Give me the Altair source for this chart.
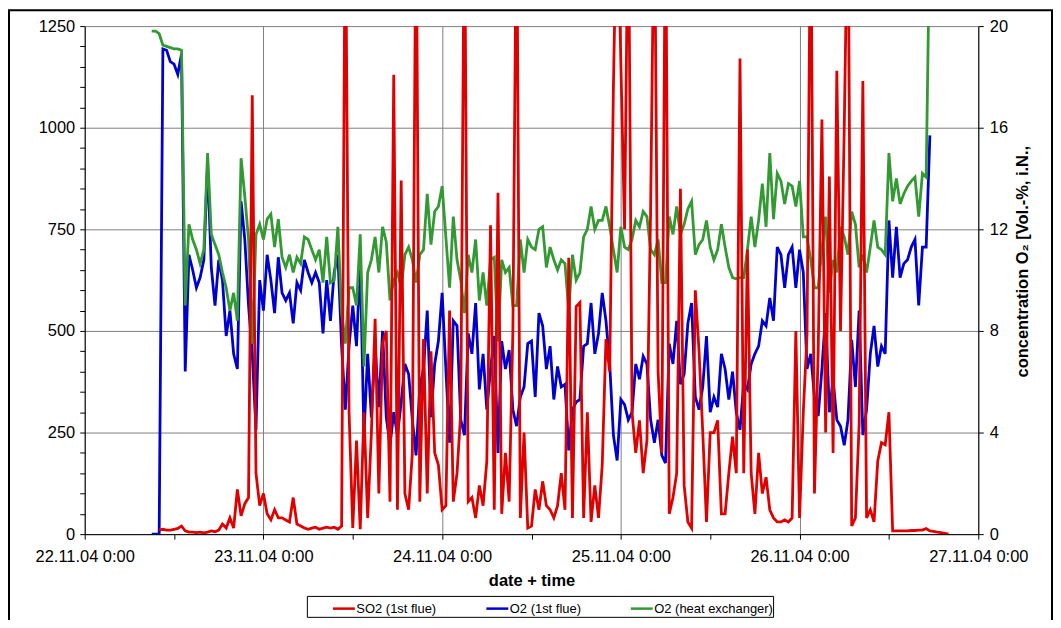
import altair as alt
import numpy as np
import pandas as pd

# ---------------- data ----------------
# time axis: hours after 22.11.04 0:00, logger interval 0.5 h
O2_START_H = 9.0
SO2_START_H = 10.0
STEP_H = 0.5

# O2 (1st flue) [Vol.-%], from 9.0 h
o2_flue = [
    0, 0, 0, 19.1, 19.05, 18.6, 18.5, 18.1, 18.9, 6.4,             # 9.0
    11.0, 10.4, 9.7, 10.1, 10.8, 14.6, 10.5, 9.0, 10.8, 10.0,      # 14.0
    7.8, 8.8, 7.1, 6.5, 13.1, 11.6, 9.0, 7.1, 4.1, 10.0,           # 19.0
    8.8, 11.0, 10.0, 8.7, 10.9, 9.5, 9.2, 9.5, 8.3, 9.9,           # 24.0
    9.6, 10.8, 10.3, 9.9, 10.3, 9.9, 7.9, 10.0, 8.4, 10.3,         # 29.0
    11.0, 7.4, 4.9, 7.4, 9.0, 7.4, 10.8, 3.9, 7.1, 4.6,            # 34.0
    7.4, 5.0, 8.0, 4.6, 3.5, 4.8, 3.9, 5.2, 6.7, 6.3,              # 39.0
    4.5, 3.1, 5.8, 6.5, 8.8, 4.6, 6.7, 7.6, 9.5, 6.5,              # 44.0
    3.6, 8.4, 8.2, 4.5, 3.9, 7.9, 7.1, 9.1, 5.7, 7.1,              # 49.0
    4.9, 6.5, 7.8, 3.2, 7.6, 6.5, 7.25, 4.9, 4.25, 5.4,            # 54.0
    5.8, 7.5, 7.6, 5.4, 8.7, 8.2, 6.5, 7.4, 5.3, 6.6,              # 59.0
    5.8, 5.9, 3.3, 4.9, 5.2, 5.3, 7.4, 7.5, 9.1, 7.1,              # 64.0
    7.9, 9.5, 8.4, 6.7, 3.9, 2.9, 5.3, 5.1, 4.5, 4.8,              # 69.0
    6.7, 6.1, 7.0, 6.7, 4.5, 3.6, 4.5, 3.1, 2.8, 7.5,              # 74.0
    6.7, 8.4, 5.9, 6.3, 8.3, 9.1, 5.4, 4.9, 5.8, 7.8,              # 79.0
    4.8, 5.4, 5.0, 7.1, 6.5, 5.3, 6.4, 4.8, 4.1, 5.95,             # 84.0
    5.7, 6.7, 7.1, 7.4, 8.4, 8.2, 9.3, 8.4, 11.3, 11.0,            # 89.0
    9.7, 11.0, 11.3, 9.7, 11.2, 10.3, 6.5, 7.1, 5.4, 4.65,         # 94.0
    6.5, 8.7, 4.8, 6.1, 4.5, 4.25, 3.5, 4.5, 7.65, 5.8,            # 99.0
    8.8, 3.9, 4.9, 7.1, 8.2, 6.6, 7.4, 7.1, 12.35, 10.1,           # 104.0
    12.1, 10.1, 10.65, 10.8, 11.3, 11.6, 9.0, 11.3, 11.3, 15.7,    # 109.0
]

# O2 (heat exchanger) [Vol.-%], from 9.0 h
o2_hx = [
    19.8, 19.8, 19.7, 19.25, 19.2, 19.15, 19.1, 19.1, 19.05, 9.0,  # 9.0
    12.2, 11.6, 11.2, 10.65, 11.2, 15.0, 11.8, 11.4, 11.0, 10.3,   # 14.0
    9.7, 8.8, 9.5, 8.4, 14.8, 13.3, 11.6, 7.5, 11.8, 12.2,         # 19.0
    11.6, 12.4, 12.6, 11.3, 12.4, 10.9, 10.5, 11.0, 10.3, 10.9,    # 24.0
    10.65, 11.7, 11.6, 11.2, 10.8, 11.2, 9.9, 11.7, 9.9, 10.0,     # 29.0
    12.1, 8.7, 7.5, 9.7, 9.7, 9.0, 11.8, 6.6, 10.3, 10.8,          # 34.0
    11.7, 10.3, 12.1, 11.5, 9.2, 10.0, 10.3, 9.7, 11.0, 11.3,      # 39.0
    10.8, 9.9, 11.0, 11.2, 13.4, 11.4, 12.7, 12.9, 13.7, 11.7,     # 44.0
    9.7, 12.5, 10.8, 10.0, 8.7, 11.0, 10.3, 11.6, 9.2, 10.3,       # 49.0
    9.0, 10.8, 10.9, 7.6, 10.8, 10.3, 10.5, 9.0, 9.0, 11.6,        # 54.0
    10.3, 11.6, 11.3, 11.2, 12.0, 12.1, 10.5, 11.3, 10.8, 10.4,    # 59.0
    10.8, 10.65, 8.8, 11.0, 10.0, 10.3, 11.7, 12.0, 12.9, 12.0,    # 64.0
    12.35, 12.35, 12.9, 12.1, 11.2, 10.3, 12.1, 11.3, 11.2, 11.6,  # 69.0
    12.35, 12.1, 12.7, 12.5, 11.2, 11.0, 11.6, 9.9, 9.9, 12.5,     # 74.0
    11.8, 12.9, 11.8, 12.2, 12.8, 13.1, 11.0, 11.4, 11.6, 12.35,   # 79.0
    11.3, 10.8, 11.2, 12.2, 11.3, 10.5, 10.1, 10.05, 10.1, 10.1,   # 84.0
    11.2, 12.5, 11.3, 12.35, 13.8, 12.1, 15.0, 12.4, 14.2, 13.9,   # 89.0
    13.0, 13.8, 13.7, 12.9, 13.9, 11.7, 11.7, 10.8, 9.7, 9.7,      # 94.0
    11.2, 12.5, 9.5, 10.8, 10.3, 12.1, 11.7, 11.0, 12.7, 12.2,     # 99.0
    10.5, 11.0, 10.3, 11.3, 12.35, 11.3, 11.2, 11.0, 15.0, 13.1,   # 104.0
    14.0, 13.0, 13.4, 13.7, 13.9, 14.05, 12.5, 14.2, 14.05, 24.0,  # 109.0
]

# SO2 (1st flue) [mg/m3], from 10.0 h
so2 = [
    10, 12, 10, 10, 12, 14, 20, 8, 5, 5,                  # 10.0
    4, 5, 3, 5, 8, 6, 10, 25, 15, 40,                     # 15.0
    15, 110, 45, 75, 90, 1080, 150, 70, 100, 50,          # 20.0
    35, 60, 40, 40, 35, 30, 90, 25, 20, 15,               # 25.0
    12, 15, 17, 12, 15, 17, 15, 17, 12, 20,               # 30.0
    1600, 300, 15, 230, 12, 300, 40, 250, 530, 100,       # 35.0
    470, 500, 80, 1130, 60, 870, 100, 60, 200, 1600,      # 40.0
    80, 480, 100, 450, 200, 170, 60, 70, 550, 80,         # 45.0
    150, 300, 1600, 80, 90, 40, 120, 70, 180, 760,        # 50.0
    60, 840, 50, 200, 80, 500, 1600, 40, 250, 15,         # 55.0
    20, 110, 60, 130, 70, 60, 40, 70, 150, 60,            # 60.0
    680, 40, 560, 570, 40, 300, 30, 120, 40, 170,         # 65.0
    480, 400, 1100, 1600, 1160, 750, 1600, 300, 200, 280, # 70.0
    150, 230, 800, 1600, 400, 200, 1600, 50, 90, 150,     # 75.0
    850, 120, 30, 15, 600, 450, 250, 30, 250, 250,        # 80.0
    280, 50, 50, 150, 240, 150, 1170, 150, 700, 150,      # 85.0
    50, 200, 100, 140, 60, 40, 30, 30, 35, 30,            # 90.0
    40, 500, 40, 300, 490, 1600, 100, 450, 1020, 250,     # 95.0
    880, 200, 1140, 500, 1000, 1600, 20, 40, 270, 1115,   # 100.0
    40, 60, 30, 180, 225, 220, 300, 8, 8, 8,              # 105.0
    8, 8, 9, 9, 10, 10, 14, 8, 7, 5,                      # 110.0
    4, 2, 0,                                              # 115.0
]

series_names = ["SO2 (1st flue)", "O2 (1st flue)", "O2 (heat exchanger)"]
series_colors = ["#E00000", "#0000D0", "#339933"]
day_labels = ["22.11.04 0:00", "23.11.04 0:00", "24.11.04 0:00",
              "25.11.04 0:00", "26.11.04 0:00", "27.11.04 0:00"]
so2_ticks = list(range(0, 1251, 50))
o2_ticks = [0, 4, 8, 12, 16, 20]
x_ticks = list(range(0, 121, 12))

# ---------------- tables ----------------
def frame(start, values, name):
    t = start + STEP_H * np.arange(len(values))
    return pd.DataFrame({"t": t, "v": values, "series": name})

df_so2 = frame(SO2_START_H, so2, series_names[0])
df_o2f = frame(O2_START_H, o2_flue, series_names[1])
df_o2h = frame(O2_START_H, o2_hx, series_names[2])

FONT = "Liberation Sans"
W, H = 897, 510
LW = 2.8

lab_list = "[" + ",".join("'" + s + "'" for s in day_labels) + "]"
x_axis = alt.Axis(
    values=x_ticks,
    labelExpr="datum.value % 24 === 0 ? " + lab_list + "[datum.value / 24] : ''",
    title="date + time",
    grid=True, gridColor="#808080", gridWidth=1,
    gridOpacity={"condition": {"test": "datum.value % 24 === 0", "value": 1}, "value": 0},
    domainColor="black", tickColor="black", tickSize=5,
    labelFont=FONT, labelFontSize=16.5, labelColor="black",
    labelBaseline="alphabetic", labelPadding=22, labelOverlap=False, labelFlush=False,
    titleFont=FONT, titleFontSize=16.5, titleFontWeight="bold", titleColor="black",
    titleBaseline="alphabetic", titleY=52,
)
x_enc = alt.X("t:Q", scale=alt.Scale(domain=[0, 120], nice=False, zero=False), axis=x_axis)

color_enc = alt.Color(
    "series:N",
    scale=alt.Scale(domain=series_names, range=series_colors),
    legend=alt.Legend(
        orient="none", legendX=247.7, legendY=572, direction="horizontal", title=None,
        symbolType="stroke", symbolSize=484, symbolStrokeWidth=2.5,
        labelFont=FONT, labelFontSize=13, labelColor="black", labelOffset=0,
        columnPadding=44, padding=0,
    ),
)

left_axis = alt.Axis(
    orient="left", values=so2_ticks, format="d",
    labelExpr="datum.value % 250 === 0 ? datum.label : ''",
    title=None, grid=True, gridColor="#808080", gridWidth=1,
    gridOpacity={"condition": {"test": "datum.value % 250 === 0", "value": 1}, "value": 0},
    domainColor="black", tickColor="black", tickSize=5,
    labelFont=FONT, labelFontSize=16.5, labelColor="black", labelPadding=5,
    labelOverlap=False, labelFlush=False,
)
right_axis = alt.Axis(
    orient="right", values=o2_ticks, format="d", grid=False,
    domainColor="black", tickColor="black", tickSize=5,
    labelFont=FONT, labelFontSize=16.5, labelColor="black", labelPadding=6,
    labelOverlap=False, labelFlush=False,
    title="concentration O\u2082 [Vol.-%, i.N.,",
    titleFont=FONT, titleFontSize=16.5, titleFontWeight="bold", titleColor="black",
    titleAngle=270, titleAlign="center", titleBaseline="middle",
    titleX=44, titleY=236,
)

so2_line = alt.Chart(df_so2).mark_line(strokeWidth=LW, clip=True).encode(
    x=x_enc,
    y=alt.Y("v:Q", scale=alt.Scale(domain=[0, 1250], nice=False), axis=left_axis),
    color=color_enc,
)

def o2_layer(df):
    return alt.Chart(df).mark_line(strokeWidth=LW, clip=True).encode(
        x=x_enc,
        y=alt.Y("v:Q", scale=alt.Scale(domain=[0, 20], nice=False), axis=right_axis),
        color=color_enc,
    )

o2_group = alt.layer(o2_layer(df_o2f), o2_layer(df_o2h))

one = pd.DataFrame({"k": [0]})
outer_frame = alt.Chart(one).mark_rect(fillOpacity=0, stroke="black", strokeWidth=2).encode(
    x=alt.value(-76), x2=alt.value(971), y=alt.value(-16), y2=alt.value(700)
)
legend_box = alt.Chart(one).mark_rect(fillOpacity=0, stroke="black", strokeWidth=1).encode(
    x=alt.value(223.5), x2=alt.value(691.5), y=alt.value(572.5), y2=alt.value(593.5)
)

chart = alt.layer(outer_frame, legend_box, o2_group, so2_line).resolve_scale(
    y="independent"
).properties(
    width=W, height=H,
    autosize=alt.AutoSizeParams(type="none"),
    padding={"left": 77, "top": 17, "right": 75, "bottom": 85},
    background="white",
).configure_view(strokeWidth=0)

chart.save("out.html", embed_options={"renderer": "svg", "actions": False})
